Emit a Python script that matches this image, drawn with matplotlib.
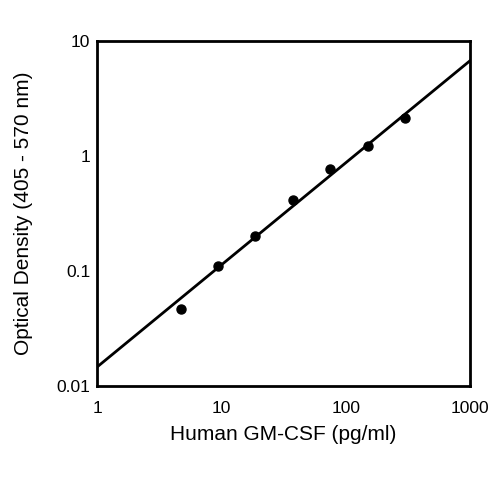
import numpy as np
import matplotlib
matplotlib.use('Agg')
import matplotlib.pyplot as plt
from matplotlib.ticker import FixedLocator, FixedFormatter, NullLocator

# standard curve data
conc = [4.6875, 9.375, 18.75, 37.5, 75, 150, 300]
od = [0.047, 0.110, 0.203, 0.414, 0.766, 1.22, 2.13]

# fitted line (log-log): log10(od) = slope * log10(conc) + intercept
fit_slope = 0.887
fit_intercept = -1.833

x_ticks = [1, 10, 100, 1000]
x_labels = ["1", "10", "100", "1000"]
y_ticks = [0.01, 0.1, 1, 10]
y_labels = ["0.01", "0.1", "1", "10"]

plt.rcParams['font.family'] = ['Liberation Sans', 'DejaVu Sans']

fig = plt.figure(figsize=(4.88, 4.83), dpi=100)
ax = fig.add_axes([0.1994, 0.2008, 0.7636, 0.7143])

xf = np.logspace(0, 3, 200)
ax.plot(xf, 10 ** (fit_slope * np.log10(xf) + fit_intercept), color='black', lw=2)
ax.plot(conc, od, 'o', color='black', ms=6.5)

ax.set_xscale('log')
ax.set_yscale('log')
ax.set_xlim(1, 1000)
ax.set_ylim(0.01, 10)

ax.xaxis.set_major_locator(FixedLocator(x_ticks))
ax.xaxis.set_major_formatter(FixedFormatter(x_labels))
ax.yaxis.set_major_locator(FixedLocator(y_ticks))
ax.yaxis.set_major_formatter(FixedFormatter(y_labels))
ax.xaxis.set_minor_locator(NullLocator())
ax.yaxis.set_minor_locator(NullLocator())
ax.tick_params(length=0, labelsize=12.5)
ax.tick_params(axis='x', pad=11)
ax.tick_params(axis='y', pad=5)

for s in ax.spines.values():
    s.set_linewidth(2)

ax.set_xlabel("Human GM-CSF (pg/ml)", fontsize=15, va='center')
ax.set_ylabel("Optical Density (405 - 570 nm)", fontsize=15, va='center', ha='center')
ax.xaxis.set_label_coords(0.5, -0.14)
ax.yaxis.set_label_coords(-0.199, 0.5)

fig.savefig("out.png", dpi=100)
